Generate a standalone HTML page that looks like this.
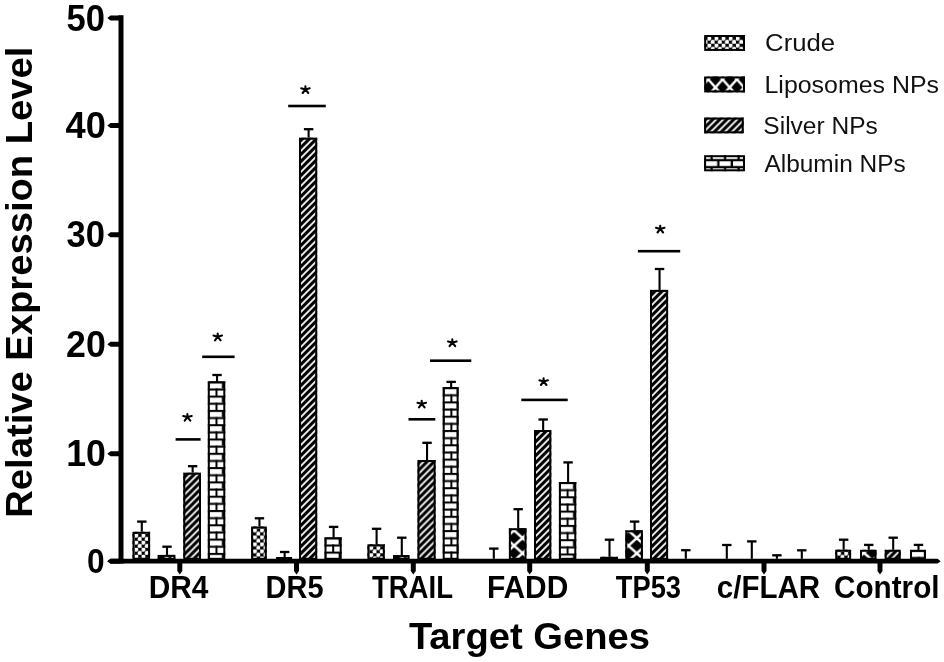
<!DOCTYPE html>
<html><head><meta charset="utf-8"><title>Relative Expression Level</title>
<style>
html,body{margin:0;padding:0;background:#fff;}
body{width:944px;height:662px;overflow:hidden;}
svg{display:block;will-change:transform;}
text{font-family:"Liberation Sans",sans-serif;}
</style></head><body>
<svg width="944" height="662" viewBox="0 0 944 662">
<defs>

<pattern id="p-crude" patternUnits="userSpaceOnUse" x="0" y="0" width="7.1" height="7">
<rect width="7.1" height="7" fill="#000"/>
<circle cx="1.78" cy="1.75" r="2.15" fill="#fff"/>
<circle cx="5.33" cy="5.25" r="2.15" fill="#fff"/>
</pattern>
<pattern id="p-lipo" patternUnits="userSpaceOnUse" x="0" y="0" width="16.8" height="15.2">
<rect width="16.8" height="15.2" fill="#000"/>
<path d="M-1.68,-1.52 L18.48,16.72 M-1.68,16.72 L18.48,-1.52" stroke="#fff" stroke-width="2.5"/>
</pattern>
<pattern id="p-lipoleg" patternUnits="userSpaceOnUse" x="0" y="0" width="14.3" height="16">
<rect width="14.3" height="16" fill="#000"/>
<path d="M-1.43,-1.6 L15.73,17.6 M-1.43,17.6 L15.73,-1.6" stroke="#fff" stroke-width="2.4"/>
</pattern>
<pattern id="p-silver" patternUnits="userSpaceOnUse" x="0" y="0" width="7" height="7">
<rect width="7" height="7" fill="#000"/>
<path d="M-1,8 L8,-1 M-1,1 L1,-1 M6,8 L8,6" stroke="#fff" stroke-width="1.8"/>
</pattern>
<pattern id="p-alb" patternUnits="userSpaceOnUse" x="0" y="0" width="14.4" height="14.3">
<rect width="14.4" height="14.3" fill="#fff"/>
<rect x="0" y="0" width="14.4" height="2.05" fill="#000"/>
<rect x="0" y="7.15" width="14.4" height="2.05" fill="#000"/>
<rect x="-0.2" y="0" width="2.1" height="7.15" fill="#000"/>
<rect x="14.1" y="0" width="2.2" height="7.15" fill="#000"/>
<rect x="7.7" y="7.15" width="2.0" height="7.15" fill="#000"/>
</pattern>
<pattern id="p-albleg" patternUnits="userSpaceOnUse" x="0" y="0" width="13.5" height="14">
<rect width="13.5" height="14" fill="#000"/>
<rect x="0" y="0.1" width="11.2" height="4.7" fill="#fff"/>
<rect x="6.75" y="7.1" width="6.75" height="4.7" fill="#fff"/>
<rect x="0" y="7.1" width="4.45" height="4.7" fill="#fff"/>
</pattern>
</defs>
<rect width="944" height="662" fill="#fff"/>

<g transform="translate(134.5,533.8)">
<rect x="-2" y="-2" width="17.6" height="27" fill="url(#p-crude)"/>
<rect x="-1" y="-1" width="15.6" height="26" fill="none" stroke="#000" stroke-width="2"/>
</g>
<rect x="140.75" y="521.6" width="2.1" height="10.2" fill="#000"/>
<rect x="137.1" y="520.45" width="9.4" height="2.3" fill="#000"/>
<g transform="translate(153.2,545.2)">
<rect x="4.4" y="9.7" width="17.8" height="3.9" fill="url(#p-lipo)"/>
<rect x="5.4" y="10.7" width="15.8" height="2.9" fill="none" stroke="#000" stroke-width="2"/>
</g>
<rect x="165.95" y="546.7" width="2.1" height="8.2" fill="#000"/>
<rect x="162.3" y="545.55" width="9.4" height="2.3" fill="#000"/>
<g transform="translate(183.3,558.8)">
<rect x="0" y="-86.1" width="17.7" height="86.1" fill="url(#p-silver)"/>
<rect x="1" y="-85.1" width="15.7" height="85.1" fill="none" stroke="#000" stroke-width="2"/>
</g>
<rect x="191.6" y="466.2" width="2.1" height="6.5" fill="#000"/>
<rect x="187.95" y="465.05" width="9.4" height="2.3" fill="#000"/>
<g transform="translate(207.8,381.3)">
<rect x="0" y="0" width="17.5" height="177.5" fill="url(#p-alb)"/>
<rect x="1" y="1" width="15.5" height="176.5" fill="none" stroke="#000" stroke-width="2"/>
</g>
<rect x="216" y="375" width="2.1" height="6.3" fill="#000"/>
<rect x="212.35" y="373.85" width="9.4" height="2.3" fill="#000"/>
<g transform="translate(253.1,528.5)">
<rect x="-2" y="-2" width="15.7" height="32.3" fill="url(#p-crude)"/>
<rect x="-1" y="-1" width="13.7" height="31.3" fill="none" stroke="#000" stroke-width="2"/>
</g>
<rect x="258.4" y="518.3" width="2.1" height="8.2" fill="#000"/>
<rect x="254.75" y="517.15" width="9.4" height="2.3" fill="#000"/>
<g transform="translate(271.8,545.2)">
<rect x="4.4" y="11.8" width="15.9" height="1.8" fill="url(#p-lipo)"/>
<rect x="5.4" y="12.8" width="13.9" height="0.8" fill="none" stroke="#000" stroke-width="2"/>
</g>
<rect x="283.6" y="552" width="2.1" height="5" fill="#000"/>
<rect x="279.95" y="550.85" width="9.4" height="2.3" fill="#000"/>
<g transform="translate(299,558.8)">
<rect x="0" y="-421.1" width="18.2" height="421.1" fill="url(#p-silver)"/>
<rect x="1" y="-420.1" width="16.2" height="420.1" fill="none" stroke="#000" stroke-width="2"/>
</g>
<rect x="307.55" y="129.2" width="2.1" height="8.5" fill="#000"/>
<rect x="303.9" y="128.05" width="9.4" height="2.3" fill="#000"/>
<g transform="translate(324.5,537.3)">
<rect x="0" y="0" width="17.2" height="21.5" fill="url(#p-alb)"/>
<rect x="1" y="1" width="15.2" height="20.5" fill="none" stroke="#000" stroke-width="2"/>
</g>
<rect x="332.55" y="526.9" width="2.1" height="10.4" fill="#000"/>
<rect x="328.9" y="525.75" width="9.4" height="2.3" fill="#000"/>
<g transform="translate(369.4,546.3)">
<rect x="-2" y="-2" width="17.4" height="14.5" fill="url(#p-crude)"/>
<rect x="-1" y="-1" width="15.4" height="13.5" fill="none" stroke="#000" stroke-width="2"/>
</g>
<rect x="375.55" y="528.8" width="2.1" height="15.5" fill="#000"/>
<rect x="371.9" y="527.65" width="9.4" height="2.3" fill="#000"/>
<g transform="translate(388.6,545.2)">
<rect x="4.4" y="9.9" width="16.6" height="3.7" fill="url(#p-lipo)"/>
<rect x="5.4" y="10.9" width="14.6" height="2.7" fill="none" stroke="#000" stroke-width="2"/>
</g>
<rect x="400.75" y="537.7" width="2.1" height="17.4" fill="#000"/>
<rect x="397.1" y="536.55" width="9.4" height="2.3" fill="#000"/>
<g transform="translate(417.5,558.8)">
<rect x="0" y="-98.8" width="18.1" height="98.8" fill="url(#p-silver)"/>
<rect x="1" y="-97.8" width="16.1" height="97.8" fill="none" stroke="#000" stroke-width="2"/>
</g>
<rect x="426" y="442.8" width="2.1" height="17.2" fill="#000"/>
<rect x="422.35" y="441.65" width="9.4" height="2.3" fill="#000"/>
<g transform="translate(442.7,387.1)">
<rect x="0" y="0" width="15.9" height="171.7" fill="url(#p-alb)"/>
<rect x="1" y="1" width="13.9" height="170.7" fill="none" stroke="#000" stroke-width="2"/>
</g>
<rect x="450.1" y="381.9" width="2.1" height="5.2" fill="#000"/>
<rect x="446.45" y="380.75" width="9.4" height="2.3" fill="#000"/>
<rect x="492.75" y="548.6" width="2.1" height="10.2" fill="#000"/>
<rect x="489.1" y="547.45" width="9.4" height="2.3" fill="#000"/>
<g transform="translate(505.7,538)">
<rect x="3.2" y="-9.8" width="17.6" height="30.6" fill="url(#p-lipo)"/>
<rect x="4.2" y="-8.8" width="15.6" height="29.6" fill="none" stroke="#000" stroke-width="2"/>
</g>
<rect x="517.15" y="509.2" width="2.1" height="19" fill="#000"/>
<rect x="513.5" y="508.05" width="9.4" height="2.3" fill="#000"/>
<g transform="translate(534,558.8)">
<rect x="0" y="-128.8" width="17.3" height="128.8" fill="url(#p-silver)"/>
<rect x="1" y="-127.8" width="15.3" height="127.8" fill="none" stroke="#000" stroke-width="2"/>
</g>
<rect x="542.1" y="419.5" width="2.1" height="10.5" fill="#000"/>
<rect x="538.45" y="418.35" width="9.4" height="2.3" fill="#000"/>
<g transform="translate(558.9,482)">
<rect x="0" y="0" width="17.4" height="76.8" fill="url(#p-alb)"/>
<rect x="1" y="1" width="15.4" height="75.8" fill="none" stroke="#000" stroke-width="2"/>
</g>
<rect x="567.05" y="462.4" width="2.1" height="19.6" fill="#000"/>
<rect x="563.4" y="461.25" width="9.4" height="2.3" fill="#000"/>
<g transform="translate(602.1,558.8)">
<rect x="-2" y="-2" width="17.8" height="2" fill="url(#p-crude)"/>
<rect x="-1" y="-1" width="15.8" height="1" fill="none" stroke="#000" stroke-width="2"/>
</g>
<rect x="608.45" y="539.7" width="2.1" height="17.1" fill="#000"/>
<rect x="604.8" y="538.55" width="9.4" height="2.3" fill="#000"/>
<g transform="translate(628.4,530.5)">
<rect x="-3.1" y="-0.2" width="17.6" height="28.5" fill="url(#p-lipo)"/>
<rect x="-2.1" y="0.8" width="15.6" height="27.5" fill="none" stroke="#000" stroke-width="2"/>
</g>
<rect x="633.55" y="521.6" width="2.1" height="8.7" fill="#000"/>
<rect x="629.9" y="520.45" width="9.4" height="2.3" fill="#000"/>
<g transform="translate(650,558.8)">
<rect x="0" y="-268.9" width="18.1" height="268.9" fill="url(#p-silver)"/>
<rect x="1" y="-267.9" width="16.1" height="267.9" fill="none" stroke="#000" stroke-width="2"/>
</g>
<rect x="658.5" y="269" width="2.1" height="20.9" fill="#000"/>
<rect x="654.85" y="267.85" width="9.4" height="2.3" fill="#000"/>
<rect x="684.75" y="550.2" width="2.1" height="8.6" fill="#000"/>
<rect x="681.1" y="549.05" width="9.4" height="2.3" fill="#000"/>
<rect x="725.75" y="545" width="2.1" height="13.8" fill="#000"/>
<rect x="722.1" y="543.85" width="9.4" height="2.3" fill="#000"/>
<rect x="750.75" y="541.4" width="2.1" height="17.4" fill="#000"/>
<rect x="747.1" y="540.25" width="9.4" height="2.3" fill="#000"/>
<rect x="775.85" y="555.3" width="2.1" height="3.5" fill="#000"/>
<rect x="772.2" y="554.15" width="9.4" height="2.3" fill="#000"/>
<rect x="800.75" y="550.3" width="2.1" height="8.5" fill="#000"/>
<rect x="797.1" y="549.15" width="9.4" height="2.3" fill="#000"/>
<g transform="translate(837.2,551.7)">
<rect x="-2" y="-2" width="15.9" height="9.1" fill="url(#p-crude)"/>
<rect x="-1" y="-1" width="13.9" height="8.1" fill="none" stroke="#000" stroke-width="2"/>
</g>
<rect x="842.6" y="539.7" width="2.1" height="10" fill="#000"/>
<rect x="838.95" y="538.55" width="9.4" height="2.3" fill="#000"/>
<g transform="translate(855.6,545.2)">
<rect x="4.4" y="4.6" width="16.5" height="9" fill="url(#p-lipo)"/>
<rect x="5.4" y="5.6" width="14.5" height="8" fill="none" stroke="#000" stroke-width="2"/>
</g>
<rect x="867.7" y="544.9" width="2.1" height="4.9" fill="#000"/>
<rect x="864.05" y="543.75" width="9.4" height="2.3" fill="#000"/>
<g transform="translate(884.7,558.8)">
<rect x="0" y="-9" width="16" height="9" fill="url(#p-silver)"/>
<rect x="1" y="-8" width="14" height="8" fill="none" stroke="#000" stroke-width="2"/>
</g>
<rect x="892.15" y="537.7" width="2.1" height="12.1" fill="#000"/>
<rect x="888.5" y="536.55" width="9.4" height="2.3" fill="#000"/>
<g transform="translate(910,549.8)">
<rect x="0" y="0" width="16" height="9" fill="url(#p-alb)"/>
<rect x="1" y="1" width="14" height="8" fill="none" stroke="#000" stroke-width="2"/>
</g>
<rect x="917.45" y="544.9" width="2.1" height="4.9" fill="#000"/>
<rect x="913.8" y="543.75" width="9.4" height="2.3" fill="#000"/>
<rect x="175.6" y="438.1" width="25" height="2.6" fill="#000"/>
<path d="M187.4,417.1 l0,-3.1 M187.4,417.1 l-4.2,-1.1 M187.4,417.1 l4.3,-1.1 M187.4,417.1 l-2.7,3.6 M187.4,417.1 l2.9,3.6" stroke="#000" stroke-width="2.1" stroke-linecap="round" fill="none"/>
<rect x="202.2" y="355.5" width="32.4" height="2.6" fill="#000"/>
<path d="M217.7,336.7 l0,-3.1 M217.7,336.7 l-4.2,-1.1 M217.7,336.7 l4.3,-1.1 M217.7,336.7 l-2.7,3.6 M217.7,336.7 l2.9,3.6" stroke="#000" stroke-width="2.1" stroke-linecap="round" fill="none"/>
<rect x="288.2" y="104.7" width="37.6" height="2.6" fill="#000"/>
<path d="M305.4,89.4 l0,-3.1 M305.4,89.4 l-4.2,-1.1 M305.4,89.4 l4.3,-1.1 M305.4,89.4 l-2.7,3.6 M305.4,89.4 l2.9,3.6" stroke="#000" stroke-width="2.1" stroke-linecap="round" fill="none"/>
<rect x="408.5" y="418" width="26.8" height="2.6" fill="#000"/>
<path d="M421.7,403.8 l0,-3.1 M421.7,403.8 l-4.2,-1.1 M421.7,403.8 l4.3,-1.1 M421.7,403.8 l-2.7,3.6 M421.7,403.8 l2.9,3.6" stroke="#000" stroke-width="2.1" stroke-linecap="round" fill="none"/>
<rect x="430" y="359.4" width="41.3" height="2.6" fill="#000"/>
<path d="M452.3,342.5 l0,-3.1 M452.3,342.5 l-4.2,-1.1 M452.3,342.5 l4.3,-1.1 M452.3,342.5 l-2.7,3.6 M452.3,342.5 l2.9,3.6" stroke="#000" stroke-width="2.1" stroke-linecap="round" fill="none"/>
<rect x="521.3" y="398.6" width="46.4" height="2.6" fill="#000"/>
<path d="M543.6,381.4 l0,-3.1 M543.6,381.4 l-4.2,-1.1 M543.6,381.4 l4.3,-1.1 M543.6,381.4 l-2.7,3.6 M543.6,381.4 l2.9,3.6" stroke="#000" stroke-width="2.1" stroke-linecap="round" fill="none"/>
<rect x="637.9" y="249.9" width="42.3" height="2.6" fill="#000"/>
<path d="M660.2,228.9 l0,-3.1 M660.2,228.9 l-4.2,-1.1 M660.2,228.9 l4.3,-1.1 M660.2,228.9 l-2.7,3.6 M660.2,228.9 l2.9,3.6" stroke="#000" stroke-width="2.1" stroke-linecap="round" fill="none"/>
<rect x="118.5" y="15.2" width="5" height="548.4" fill="#000"/>
<path d="M110.5,558.8 L937.6,558.8 L940.6,561.2 L937.6,563.6 L110.5,563.6 L107.3,561.2 Z" fill="#000"/>
<path d="M119.5,15.4 L110.5,15.4 L107.3,17.9 L110.5,20.4 L119.5,20.4 Z" fill="#000"/>
<path d="M119.5,123.1 L110.5,123.1 L107.3,125.6 L110.5,128.1 L119.5,128.1 Z" fill="#000"/>
<path d="M119.5,232.3 L110.5,232.3 L107.3,234.8 L110.5,237.3 L119.5,237.3 Z" fill="#000"/>
<path d="M119.5,341.7 L110.5,341.7 L107.3,344.2 L110.5,346.7 L119.5,346.7 Z" fill="#000"/>
<path d="M119.5,451.2 L110.5,451.2 L107.3,453.7 L110.5,456.2 L119.5,456.2 Z" fill="#000"/>
<path d="M119.5,558.7 L110.5,558.7 L107.3,561.2 L110.5,563.7 L119.5,563.7 Z" fill="#000"/>
<path d="M177.3,562.6 L177.3,571 L179.8,574.6 L182.3,571 L182.3,562.6 Z" fill="#000"/>
<path d="M294,562.6 L294,571 L296.5,574.6 L299,571 L299,562.6 Z" fill="#000"/>
<path d="M410.8,562.6 L410.8,571 L413.3,574.6 L415.8,571 L415.8,562.6 Z" fill="#000"/>
<path d="M527.2,562.6 L527.2,571 L529.7,574.6 L532.2,571 L532.2,562.6 Z" fill="#000"/>
<path d="M644.8,562.6 L644.8,571 L647.3,574.6 L649.8,571 L649.8,562.6 Z" fill="#000"/>
<path d="M761.5,562.6 L761.5,571 L764,574.6 L766.5,571 L766.5,562.6 Z" fill="#000"/>
<path d="M877.5,562.6 L877.5,571 L880,574.6 L882.5,571 L882.5,562.6 Z" fill="#000"/>
<text x="66.5" y="30.5" font-size="37" font-weight="bold" textLength="38.42" lengthAdjust="spacingAndGlyphs">50</text>
<text x="65.6" y="138.1" font-size="37" font-weight="bold" textLength="40.33" lengthAdjust="spacingAndGlyphs">40</text>
<text x="66.5" y="247.3" font-size="37" font-weight="bold" textLength="38.42" lengthAdjust="spacingAndGlyphs">30</text>
<text x="66.1" y="356.7" font-size="37" font-weight="bold" textLength="39.7" lengthAdjust="spacingAndGlyphs">20</text>
<text x="66.2" y="466.1" font-size="37" font-weight="bold" textLength="39.66" lengthAdjust="spacingAndGlyphs">10</text>
<text x="86.9" y="573.2" font-size="35.8" font-weight="bold" textLength="17.6" lengthAdjust="spacingAndGlyphs">0</text>
<text x="148.7" y="598.1" font-size="30.5" font-weight="bold" textLength="59.78" lengthAdjust="spacingAndGlyphs">DR4</text>
<text x="265.6" y="598.1" font-size="30.5" font-weight="bold" textLength="57.87" lengthAdjust="spacingAndGlyphs">DR5</text>
<text x="371.9" y="598.1" font-size="30.5" font-weight="bold" textLength="81.12" lengthAdjust="spacingAndGlyphs">TRAIL</text>
<text x="486.9" y="598.1" font-size="30.5" font-weight="bold" textLength="81.38" lengthAdjust="spacingAndGlyphs">FADD</text>
<text x="615.8" y="598.1" font-size="30.5" font-weight="bold" textLength="65.21" lengthAdjust="spacingAndGlyphs">TP53</text>
<text x="716.8" y="597.8" font-size="30.5" font-weight="bold" textLength="103.3" lengthAdjust="spacingAndGlyphs">c/FLAR</text>
<text x="834" y="598.3" font-size="30.5" font-weight="bold" textLength="105.53" lengthAdjust="spacingAndGlyphs">Control</text>
<text x="408.9" y="649.05" font-size="37.4" font-weight="bold" textLength="241.03" lengthAdjust="spacingAndGlyphs">Target Genes</text>
<text transform="translate(32.3,517.7) rotate(-90)" font-size="37.3" font-weight="bold" textLength="471.13" lengthAdjust="spacingAndGlyphs">Relative Expression Level</text>
<g transform="translate(707.5,36.75)"><rect x="-3.3" y="-1.75" width="40.8" height="15.9" fill="url(#p-crude)"/><rect x="-2.3" y="-0.75" width="38.8" height="13.9" fill="none" stroke="#000" stroke-width="2"/></g>
<g transform="translate(708.25,79.4)"><rect x="-4.05" y="-2.9" width="40.8" height="15.9" fill="url(#p-lipoleg)"/><rect x="-3.05" y="-1.9" width="38.8" height="13.9" fill="none" stroke="#000" stroke-width="2"/></g>
<g transform="translate(704.1,117.6)"><rect x="0" y="0" width="39.6" height="15.7" fill="url(#p-silver)"/><rect x="1" y="1" width="37.6" height="13.7" fill="none" stroke="#000" stroke-width="2"/></g>
<g transform="translate(706,161.2)"><rect x="-1.9" y="-6" width="40.9" height="16.1" fill="url(#p-albleg)"/><rect x="-0.9" y="-5" width="38.9" height="14.1" fill="none" stroke="#000" stroke-width="2"/></g>
<text x="765.1" y="51.3" font-size="24.6" font-weight="normal" textLength="70.08" lengthAdjust="spacingAndGlyphs" fill="#111">Crude</text>
<text x="764.5" y="92.7" font-size="24.6" font-weight="normal" textLength="174.48" lengthAdjust="spacingAndGlyphs" fill="#111">Liposomes NPs</text>
<text x="763.3" y="133.6" font-size="24.6" font-weight="normal" textLength="114.6" lengthAdjust="spacingAndGlyphs" fill="#111">Silver NPs</text>
<text x="764.4" y="171.5" font-size="24.6" font-weight="normal" textLength="141.35" lengthAdjust="spacingAndGlyphs" fill="#111">Albumin NPs</text>
</svg>
</body></html>
